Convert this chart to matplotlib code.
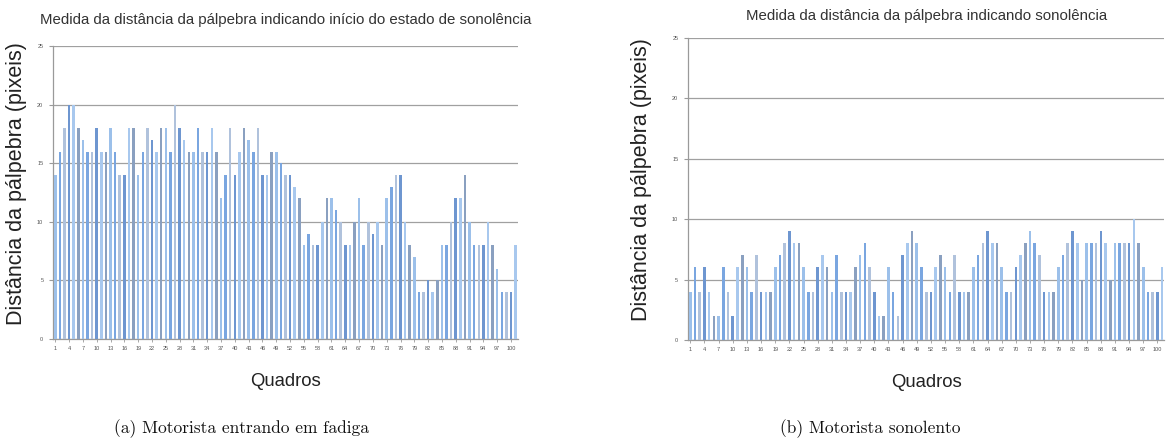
import matplotlib
matplotlib.use("Agg")
import matplotlib.pyplot as plt

# Frame numbers (Quadros) and eyelid distance in pixels
frames = list(range(1, 102))

fatigue = [14, 16, 18, 20, 20, 18, 17, 16, 16, 18, 16, 16, 18, 16, 14, 14, 18,
           18, 14, 16, 18, 17, 16, 18, 18, 16, 20, 18, 17, 16, 16, 18, 16,
           16, 18, 16, 12, 14, 18, 14, 16, 18, 17, 16, 18, 14, 14, 16, 16,
           15, 14, 14, 13, 12, 8, 9, 8, 8, 10, 12, 12, 11, 10, 8, 8, 10, 12,
           8, 10, 9, 10, 8, 12, 13, 14, 14, 10, 8, 7, 4, 4, 5, 4, 5, 8, 8,
           10, 12, 12, 14, 10, 8, 8, 8, 10, 8, 6, 4, 4, 4, 8]

drowsy = [4, 6, 4, 6, 4, 2, 2, 6, 4, 2, 6, 7, 6, 4, 7, 4, 4, 4, 6, 7, 8, 9,
          8, 8, 6, 4, 4, 6, 7, 6, 4, 7, 4, 4,
          4, 6, 7, 8, 6, 4, 2, 2, 6, 4, 2, 7, 8, 9, 8, 6, 4, 4, 6, 7, 6, 4,
          7, 4, 4, 4, 6, 7, 8, 9, 8, 8, 6,
          4, 4, 6, 7, 8, 9, 8, 7, 4, 4, 4, 6, 7, 8, 9, 8, 5, 8, 8, 8, 9, 8,
          5, 8, 8, 8, 8, 10, 8, 6, 4, 4, 4, 6]

tick_frames = frames[::3]
y_ticks = [0, 5, 10, 15, 20, 25]

title_a = "Medida da distância da pálpebra indicando início do estado de sonolência"
title_b = "Medida da distância da pálpebra indicando sonolência"
ylabel = "Distância da pálpebra (pixeis)"
xlabel = "Quadros"
caption_a = "(a) Motorista entrando em fadiga"
caption_b = "(b) Motorista sonolento"

SANS = ["Liberation Sans", "DejaVu Sans"]
SHADES = ["#9cc0ea", "#7aa6e0", "#b0c2dc", "#6e96d0", "#a8c8ee", "#8aa0c0"]

fig = plt.figure(figsize=(11.68, 4.43), dpi=100)


def draw(ax, values, title, title_y, ylab_x):
    colors = [SHADES[i % len(SHADES)] for i in range(len(values))]
    ax.bar(frames, values, width=0.55, color=colors, linewidth=0, zorder=3)
    ax.set_xlim(frames[0] - 0.5, frames[-1] + 0.5)
    ax.set_ylim(0, 25)
    ax.set_yticks(y_ticks)
    ax.set_yticklabels([str(v) for v in y_ticks], fontsize=4, color="#555555",
                       family=SANS)
    ax.set_xticks(tick_frames)
    ax.set_xticklabels([str(v) for v in tick_frames], fontsize=4,
                       color="#555555", family=SANS)
    ax.grid(axis="y", color="#a0a0a0", linewidth=0.9, zorder=0)
    for s in ("top", "right"):
        ax.spines[s].set_visible(False)
    for s in ("left", "bottom"):
        ax.spines[s].set_color("#9a9a9a")
        ax.spines[s].set_linewidth(0.9)
    ax.tick_params(axis="y", length=3, width=0.8, color="#9a9a9a", pad=4)
    ax.tick_params(axis="x", length=2, width=0.6, color="#9a9a9a", pad=3)
    ax.set_xlabel(xlabel, fontsize=13.3, family=SANS, color="#222222",
                  labelpad=16)
    ax.set_ylabel(ylabel, fontsize=15.5, family=SANS, color="#222222")
    ax.yaxis.set_label_coords(ylab_x, 0.53)
    ax.set_title(title, fontsize=10.8, family=SANS, color="#333333",
                 y=title_y, pad=0)


ax_a = fig.add_axes([0.0454, 0.2348, 0.398, 0.661])
draw(ax_a, fatigue, title_a, 1.075, -0.056)

ax_b = fig.add_axes([0.589, 0.2325, 0.408, 0.682])
draw(ax_b, drowsy, title_b, 1.06, -0.075)

fig.text(0.207, 0.033, caption_a, family="cmr10", fontsize=12.5,
         ha="center", va="center", color="#111111")
fig.text(0.745, 0.033, caption_b, family="cmr10", fontsize=12.5,
         ha="center", va="center", color="#111111")

fig.savefig("out.png", dpi=100)
